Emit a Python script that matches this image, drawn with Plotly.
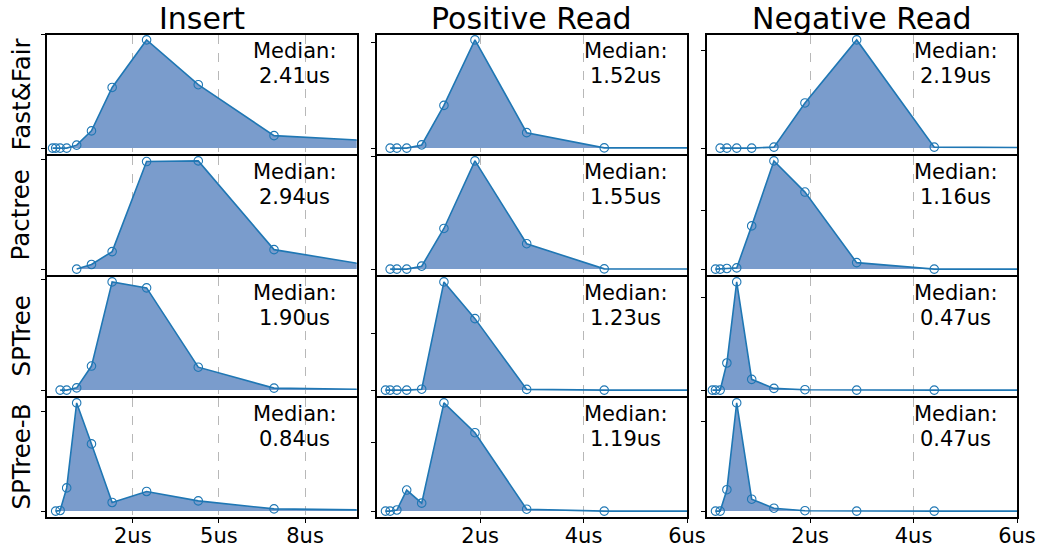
import plotly.graph_objects as go

# ---- data -------------------------------------------------------------
# latency bins (us); share of requests falling in each bin
bins = [0.11, 0.17, 0.26, 0.39, 0.58, 0.87, 1.30, 1.90, 2.90, 4.40, 6.60, 9.90]

trees = ["Fast&Fair", "Pactree", "SPTree", "SPTree-B"]
ops = ["Insert", "Positive Read", "Negative Read"]

N = None
insert_fastfair = [N, 0, 0, 0, 0, 1.3, 7.6, 26.8, 47.8, 28.0, 5.5, 2.9]
insert_pactree = [N, N, N, N, N, 0, 2.1, 8.0, 49.2, 49.5, 8.9, 0.4]
insert_sptree = [N, N, N, 0, 0, 1.0, 10.9, 49.1, 46.4, 10.4, 0.9, 0.2]
insert_sptree_b = [N, N, 0, 0.3, 11.6, 54.1, 33.6, 4.3, 9.8, 5.1, 1.1, 0.4]

posread_fastfair = [N, N, 0, 0, 0, 1.5, 20.2, 51.2, 7.3, 0.1, 0.1, N]
posread_pactree = [N, N, 0, 0, 0, 1.3, 18.1, 48.2, 11.3, 0.1, 0, N]
posread_sptree = [N, 0, 0, 0, 0, 0.4, 47.7, 31.5, 0.3, 0, 0, N]
posread_sptree_b = [N, 0, 0, 0.4, 7.7, 2.9, 39.6, 28.7, 0.7, 0, 0, N]

negread_fastfair = [N, N, 0, 0, 0, 0, 0.5, 23.2, 55.6, 0.5, 0.2, N]
negread_pactree = [N, 0, 0, 0.2, 0.4, 14.7, 36.8, 26.2, 2.2, 0, 0, N]
negread_sptree = [0, 0, 0, 14.6, 58.3, 5.8, 0.9, 0.2, 0, 0, 0, N]
negread_sptree_b = [N, 0, 0, 11.9, 60.2, 6.6, 1.6, 0.2, 0, 0, 0, N]

series = [
    [insert_fastfair, posread_fastfair, negread_fastfair],
    [insert_pactree, posread_pactree, negread_pactree],
    [insert_sptree, posread_sptree, negread_sptree],
    [insert_sptree_b, posread_sptree_b, negread_sptree_b],
]

medians_us = [
    [2.41, 1.52, 2.19],
    [2.94, 1.55, 1.16],
    [1.90, 1.23, 0.47],
    [0.84, 1.19, 0.47],
]

# unlabeled y tick (besides 0) for each panel
y_tick = [
    [50, 50, 50],
    [50, 50, 20],
    [50, 25, 50],
    [50, 25, 50],
]

x_limits = [9, 6, 6]
x_tick_vals = [[2.5, 5, 7.5], [2, 4, 6], [2, 4, 6]]
x_tick_text = [["2us", "5us", "8us"], ["2us", "4us", "6us"], ["2us", "4us", "6us"]]

# ---- layout geometry (pixels, inner plot areas) -------------------------
W, H = 1042, 550
LW = 2  # frame line width
col_px = [(46.7, 356.7), (376.7, 687.0), (706.7, 1017.0)]
row_px = [(34.5, 153.5), (155.5, 274.5), (276.5, 395.5), (397.5, 516.5)]

FONT = "DejaVu Sans"
LINE = "#1f77b4"
FILL = "rgb(122,156,204)"


def px_x(p):
    return p / W


def px_y(p):
    return 1 - p / H


fig = go.Figure()
annotations = []
layout = {}

for r, tree in enumerate(trees):
    for c, op in enumerate(ops):
        n = r * 3 + c + 1
        sfx = "" if n == 1 else str(n)
        vals = series[r][c]
        xs = [b for b, v in zip(bins, vals) if v is not None]
        ys = [v for v in vals if v is not None]
        peak = max(ys)

        fig.add_trace(go.Scatter(
            x=xs, y=ys, xaxis="x" + sfx, yaxis="y" + sfx,
            mode="lines+markers", fill="tozeroy", fillcolor=FILL,
            line=dict(color=LINE, width=1.6),
            marker=dict(symbol="circle-open", size=8.5, color=LINE,
                        line=dict(width=1.1, color=LINE)),
            showlegend=False, hoverinfo="skip",
        ))

        x0, x1 = col_px[c]
        y0, y1 = row_px[r]
        bottom = r == len(trees) - 1
        layout["xaxis" + sfx] = dict(
            domain=[px_x(x0), px_x(x1)], range=[0, x_limits[c]],
            anchor="y" + sfx, showline=True, mirror=True,
            linecolor="black", linewidth=LW, automargin=False,
            tickmode="array", tickvals=x_tick_vals[c], ticktext=x_tick_text[c],
            showticklabels=bottom, ticks="outside" if bottom else "",
            ticklen=4, tickcolor="black", ticklabelstandoff=-5,
            tickfont=dict(family=FONT, size=21, color="black"),
            showgrid=True, gridcolor="#b8b8b8", griddash="dash", gridwidth=1,
            zeroline=False, fixedrange=True,
        )
        layout["yaxis" + sfx] = dict(
            domain=[px_y(y1), px_y(y0)], range=[-0.05 * peak, 1.05 * peak],
            anchor="x" + sfx, showline=True, mirror=True,
            linecolor="black", linewidth=LW, automargin=False,
            tickmode="array", tickvals=[0, y_tick[r][c]],
            showticklabels=False, ticks="outside", ticklen=4, tickcolor="black",
            showgrid=False, zeroline=False, fixedrange=True,
        )

        cx = px_x(x1 - 62)
        annotations.append(dict(
            x=cx, y=px_y(y0 + 16.2), xref="paper", yref="paper",
            text="Median:", showarrow=False, xanchor="center", yanchor="middle",
            font=dict(family=FONT, size=21, color="black")))
        annotations.append(dict(
            x=cx, y=px_y(y0 + 41.7), xref="paper", yref="paper",
            text=f"{medians_us[r][c]:.2f}us", showarrow=False,
            xanchor="center", yanchor="middle",
            font=dict(family=FONT, size=21, color="black")))

for c, op in enumerate(ops):
    x0, x1 = col_px[c]
    annotations.append(dict(
        x=px_x((x0 + x1) / 2), y=px_y(18.3), xref="paper", yref="paper",
        text=op, showarrow=False, xanchor="center", yanchor="middle",
        font=dict(family=FONT, size=30, color="black")))

for r, tree in enumerate(trees):
    y0, y1 = row_px[r]
    annotations.append(dict(
        x=px_x(20.5), y=px_y((y0 + y1) / 2), xref="paper", yref="paper",
        text=tree, showarrow=False, textangle=-90,
        xanchor="center", yanchor="middle",
        font=dict(family=FONT, size=24.5, color="black")))

fig.update_layout(
    width=W, height=H, autosize=False,
    margin=dict(l=0, r=0, t=0, b=0, pad=0, autoexpand=False),
    paper_bgcolor="white", plot_bgcolor="white",
    annotations=annotations, **layout,
)

fig.write_html("out.html", config={"displayModeBar": False})
